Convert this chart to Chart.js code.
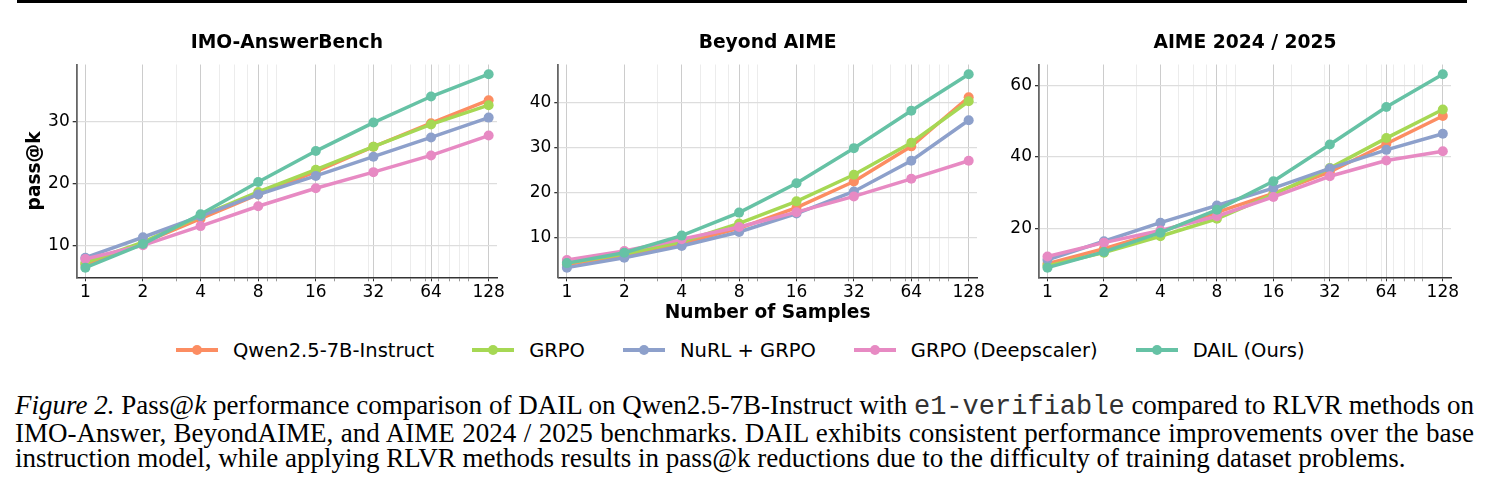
<!DOCTYPE html>
<html>
<head>
<meta charset="utf-8">
<script src="https://cdn.jsdelivr.net/npm/chart.js@4.4.0/dist/chart.umd.min.js"></script>
<style>
  body { margin: 0; width: 1491px; height: 500px; background: #fff; position: relative; overflow: hidden; }
  .rule { position: absolute; left: 17px; top: 0; width: 1450px; height: 3px; background: #000; }
  canvas { position: absolute; top: 0; }
  #legend { position: absolute; top: 338px; left: 176px; height: 24px; display: flex; align-items: center;
            font-family: "DejaVu Sans", sans-serif; font-size: 19.5px; color: #000; white-space: nowrap; }
  .item { display: flex; align-items: center; margin-right: 38px; }
  .swatch { position: relative; width: 42px; height: 4px; margin-right: 15px; }
  .swatch i { position: absolute; left: 16px; top: -3px; width: 10px; height: 10px; border-radius: 50%; background: inherit; }
  .cap { position: absolute; left: 15px; top: 393px; width: 1459px; font-family: "Liberation Serif", serif;
         font-size: 27px; line-height: 25.5px; color: #000; }
  .cap div { white-space: nowrap; }
  .cap .j { text-align: justify; text-align-last: justify; }
  .mono { font-family: "Liberation Mono", monospace; color: #333; }
</style>
</head>
<body>
<div class="rule"></div>
<canvas id="c1" width="512" height="330" style="left:0px"></canvas>
<canvas id="c2" width="494" height="330" style="left:498px"></canvas>
<canvas id="c3" width="487" height="330" style="left:979px"></canvas>
<div id="legend"></div>
<div class="cap">
  <div class="j"><i>Figure 2.</i> Pass@<i>k</i> performance comparison of DAIL on Qwen2.5-7B-Instruct with <span class="mono">e1-verifiable</span> compared to RLVR methods on</div>
  <div class="j">IMO-Answer, BeyondAIME, and AIME 2024 / 2025 benchmarks. DAIL exhibits consistent performance improvements over the base</div>
  <div>instruction model, while applying RLVR methods results in pass@k reductions due to the difficulty of training dataset problems.</div>
</div>
<script>
// campioni (asse x, log) e tick minori della griglia
const SAMPLES = [1, 2, 4, 8, 16, 32, 64, 128];
const MINOR_TICKS = [3, 5, 6, 7, 9, 10, 20, 30, 40, 50, 60, 70, 80, 90, 100];
const SERIES = ['Qwen2.5-7B-Instruct', 'GRPO', 'NuRL + GRPO', 'GRPO (Deepscaler)', 'DAIL (Ours)'];
const COLORS = ['#fc8d62', '#a6d854', '#8da0cb', '#e78ac3', '#66c2a5'];

// IMO-AnswerBench
const imoQwen = [7.0, 10.5, 14.4, 18.3, 22.0, 26.0, 29.8, 33.5];
const imoGrpo = [7.3, 10.6, 14.8, 18.7, 22.3, 26.0, 29.6, 32.7];
const imoNurl = [8.1, 11.4, 14.8, 18.3, 21.3, 24.4, 27.5, 30.7];
const imoDeep = [7.9, 10.1, 13.2, 16.4, 19.3, 21.9, 24.6, 27.8];
const imoDail = [6.5, 10.3, 15.1, 20.3, 25.3, 29.9, 34.1, 37.7];
const imoTicks = [10, 20, 30];

// Beyond AIME
const beyQwen = [4.0, 6.0, 8.7, 12.0, 16.6, 22.4, 30.2, 41.1];
const beyGrpo = [4.3, 6.3, 9.0, 13.1, 18.0, 23.9, 31.0, 40.2];
const beyNurl = [3.3, 5.5, 8.1, 11.2, 15.3, 20.2, 27.0, 36.0];
const beyDeep = [5.0, 7.0, 9.6, 12.3, 15.6, 19.1, 23.0, 27.0];
const beyDail = [4.3, 6.6, 10.4, 15.5, 22.0, 29.8, 38.1, 46.2];
const beyTicks = [10, 20, 30, 40];

// AIME 2024 / 2025
const aimeQwen = [10.1, 14.3, 19.0, 24.5, 29.8, 35.8, 43.7, 51.5];
const aimeGrpo = [9.5, 13.2, 17.8, 22.7, 29.5, 36.9, 45.3, 53.3];
const aimeNurl = [11.2, 16.4, 21.6, 26.4, 31.3, 36.8, 42.0, 46.5];
const aimeDeep = [12.1, 16.0, 19.4, 23.4, 28.8, 34.6, 39.0, 41.6];
const aimeDail = [9.0, 13.4, 18.8, 25.2, 33.2, 43.5, 54.0, 63.2];
const aimeTicks = [20, 40, 60];

Chart.defaults.font.family = 'DejaVu Sans';
Chart.defaults.color = '#000';

const allTicks = SAMPLES.concat(MINOR_TICKS).sort((a, b) => a - b);

// margine 5% come matplotlib
function yRange(series) {
  const vals = series.flat();
  const lo = Math.min(...vals), hi = Math.max(...vals);
  const m = (hi - lo) * 0.05;
  return [lo - m, hi + m];
}

function makePanel(id, title, series, yTicks, opts) {
  const [ymin, ymax] = yRange(series);
  return new Chart(document.getElementById(id), {
    type: 'line',
    data: {
      datasets: series.map((vals, i) => ({
        label: SERIES[i],
        data: SAMPLES.map((k, j) => ({ x: k, y: vals[j] })),
        borderColor: COLORS[i],
        backgroundColor: COLORS[i],
        borderWidth: 3.5,
        pointRadius: 5,
        pointBorderWidth: 0,
        tension: 0,
        order: SERIES.length - i
      }))
    },
    options: {
      responsive: false,
      animation: false,
      events: [],
      layout: { padding: { left: 0, right: 15, top: 0, bottom: 0 } },
      plugins: {
        legend: { display: false },
        tooltip: { enabled: false },
        title: {
          display: true, text: title, fullSize: false, color: '#000',
          font: { size: 18.7, weight: 'bold' },
          padding: { top: 32.4, bottom: 9.7 }
        }
      },
      scales: {
        x: {
          type: 'logarithmic',
          min: Math.pow(2, -0.15),
          max: 128 * Math.pow(2, 0.145),
          afterBuildTicks: (s) => { s.ticks = allTicks.map(v => ({ value: v })); },
          afterFit: (s) => { s.height = 52.7; },
          ticks: {
            autoSkip: false, maxRotation: 0, padding: 1,
            font: { size: 17 },
            callback: (v) => SAMPLES.includes(v) ? String(v) : ''
          },
          grid: {
            tickLength: 4,
            color: (c) => c.tick && SAMPLES.includes(c.tick.value) ? '#cccccc' : '#ececec',
            tickColor: (c) => c.tick && SAMPLES.includes(c.tick.value) ? '#333' : '#999'
          },
          border: { color: '#333', width: 1.5 },
          title: {
            display: !!opts.xTitle, text: opts.xTitle || '',
            font: { size: 18.6, weight: 'bold' },
            padding: { top: 0, bottom: 5.9 }
          }
        },
        y: {
          min: ymin, max: ymax,
          afterBuildTicks: (s) => { s.ticks = yTicks.map(v => ({ value: v })); },
          afterFit: (s) => { s.width = opts.yWidth; },
          ticks: { padding: 3, font: { size: 17 } },
          grid: { tickLength: 4, color: '#dddddd', lineWidth: 1.3, tickColor: '#333' },
          border: { color: '#666', width: 1.8 },
          title: {
            display: !!opts.yTitle, text: opts.yTitle || '',
            font: { size: 18.6, weight: 'bold' },
            padding: { top: 24, bottom: 0 }
          }
        }
      }
    }
  });
}

makePanel('c1', 'IMO-AnswerBench', [imoQwen, imoGrpo, imoNurl, imoDeep, imoDail], imoTicks,
  { yWidth: 76.7, yTitle: 'pass@k' });
makePanel('c2', 'Beyond AIME', [beyQwen, beyGrpo, beyNurl, beyDeep, beyDail], beyTicks,
  { yWidth: 60.3, xTitle: 'Number of Samples' });
makePanel('c3', 'AIME 2024 / 2025', [aimeQwen, aimeGrpo, aimeNurl, aimeDeep, aimeDail], aimeTicks,
  { yWidth: 60 });

// legenda HTML: linea + pallino come matplotlib
const legend = document.getElementById('legend');
SERIES.forEach((name, i) => {
  const item = document.createElement('div');
  item.className = 'item';
  item.innerHTML = '<span class="swatch" style="background:' + COLORS[i] + '"><i></i></span><span>' + name + '</span>';
  legend.appendChild(item);
});
</script>
</body>
</html>
